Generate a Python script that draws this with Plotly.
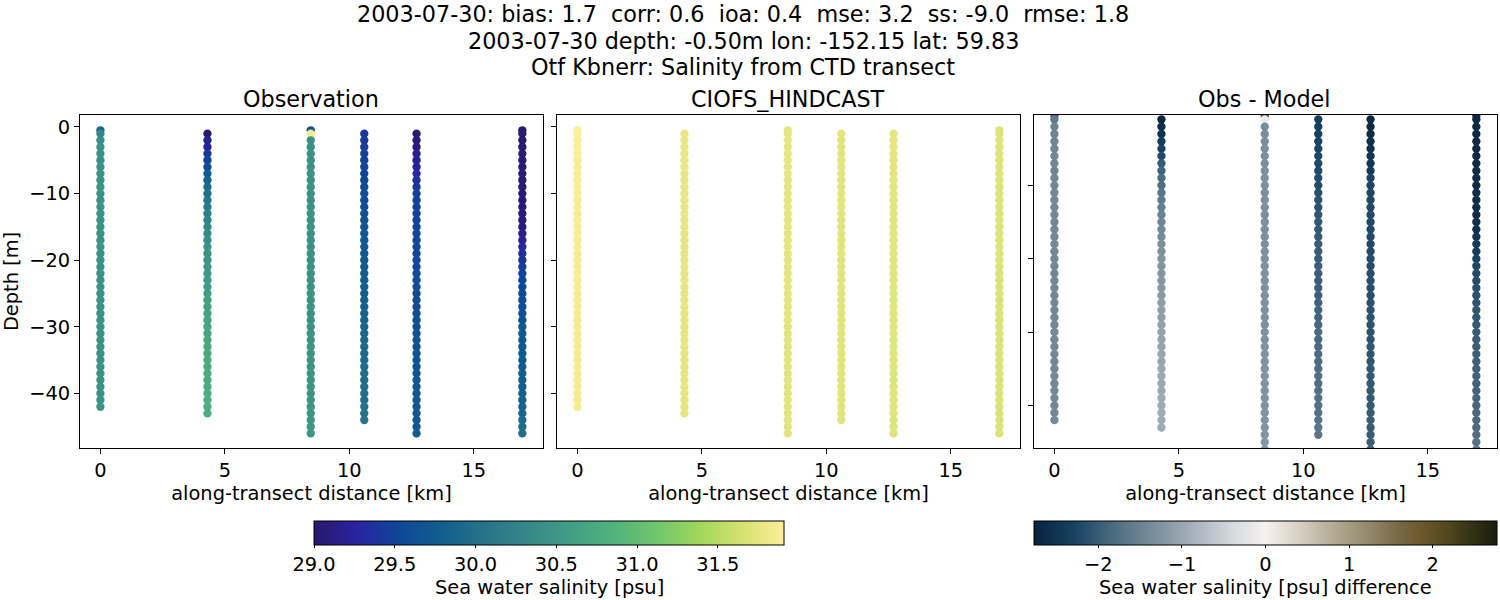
import plotly.graph_objects as go

# transect casts, values
distance = [0.0, 4.3, 8.45, 10.6, 12.7, 16.95]

depth_levels = [-0.5, -1, -2, -3, -4, -5, -6, -7, -8, -9, -10, -11, -12, -13, -14, -15,
                -16, -17, -18, -19, -20, -21, -22, -23, -24, -25, -26, -27, -28, -29, -30,
                -31, -32, -33, -34, -35, -36, -37, -38, -39, -40, -41, -42, -43, -44, -45, -46]

# index of first and one past last level per cast
cast_start = [0, 1, 0, 1, 1, 0]
cast_stop = [43, 44, 47, 45, 47, 47]

obs_0 = [29.9, 30.3, 30.42, 30.43, 30.44, 30.44, 30.45, 30.45, 30.45, 30.46, 30.46, 30.46, 30.46, 30.46, 30.46,
         30.46, 30.46, 30.46, 30.46, 30.46, 30.46, 30.46, 30.46, 30.46, 30.46, 30.46, 30.46, 30.46, 30.46, 30.46,
         30.46, 30.46, 30.46, 30.46, 30.46, 30.46, 30.46, 30.46, 30.46, 30.46, 30.46, 30.46, 30.46]
obs_1 = [29.05, 29.2, 29.25, 29.4, 29.5, 29.6, 29.75, 29.85, 29.95, 30.0, 30.1, 30.15, 30.2, 30.25, 30.3,
         30.35, 30.4, 30.45, 30.48, 30.5, 30.52, 30.54, 30.56, 30.58, 30.6, 30.62, 30.64, 30.66, 30.68, 30.7,
         30.71, 30.72, 30.73, 30.74, 30.75, 30.76, 30.77, 30.78, 30.79, 30.8, 30.8, 30.8, 30.8]
obs_2 = [29.6, 31.85, 30.4, 30.42, 30.43, 30.44, 30.44, 30.45, 30.45, 30.45, 30.45, 30.45, 30.45, 30.45, 30.45,
         30.45, 30.45, 30.45, 30.45, 30.45, 30.45, 30.46, 30.46, 30.46, 30.46, 30.46, 30.46, 30.46, 30.46, 30.46,
         30.46, 30.47, 30.47, 30.47, 30.47, 30.47, 30.48, 30.48, 30.48, 30.48, 30.49, 30.49, 30.49, 30.5, 30.5,
         30.5, 30.5]
obs_3 = [29.4, 29.42, 29.44, 29.46, 29.48, 29.5, 29.52, 29.54, 29.56, 29.58, 29.6, 29.62, 29.64, 29.66, 29.68,
         29.7, 29.71, 29.72, 29.73, 29.74, 29.75, 29.76, 29.77, 29.78, 29.79, 29.8, 29.82, 29.84, 29.86, 29.88,
         29.9, 29.91, 29.92, 29.93, 29.94, 29.95, 29.96, 29.97, 29.98, 29.99, 30.0, 30.02, 30.04, 30.05]
obs_4 = [29.05, 29.05, 29.1, 29.15, 29.2, 29.25, 29.3, 29.35, 29.45, 29.48, 29.5, 29.5, 29.51, 29.52, 29.52,
         29.53, 29.54, 29.54, 29.55, 29.56, 29.56, 29.57, 29.58, 29.58, 29.59, 29.6, 29.6, 29.61, 29.62, 29.62,
         29.63, 29.64, 29.64, 29.65, 29.66, 29.66, 29.67, 29.68, 29.68, 29.69, 29.7, 29.7, 29.71, 29.72, 29.73, 29.75]
obs_5 = [29.0, 29.03, 29.03, 29.03, 29.04, 29.04, 29.04, 29.05, 29.05, 29.06, 29.06, 29.07, 29.07, 29.08, 29.09,
         29.1, 29.15, 29.2, 29.3, 29.35, 29.4, 29.45, 29.5, 29.52, 29.54, 29.56, 29.58, 29.6, 29.62, 29.65,
         29.68, 29.7, 29.71, 29.72, 29.73, 29.74, 29.75, 29.76, 29.77, 29.78, 29.8, 29.82, 29.85, 29.88, 29.92,
         29.96, 30.0]

model_0 = [31.91, 31.91, 31.9, 31.9, 31.9, 31.89, 31.89, 31.89, 31.89, 31.89, 31.88, 31.88, 31.88, 31.88, 31.88,
           31.88, 31.88, 31.88, 31.87, 31.87, 31.87, 31.87, 31.87, 31.87, 31.87, 31.87, 31.87, 31.87, 31.86, 31.86,
           31.86, 31.86, 31.86, 31.86, 31.86, 31.86, 31.86, 31.86, 31.86, 31.86, 31.86, 31.86, 31.86]
model_1 = [31.78, 31.78, 31.78, 31.78, 31.78, 31.78, 31.77, 31.77, 31.77, 31.77, 31.77, 31.77, 31.77, 31.77, 31.77,
           31.76, 31.76, 31.76, 31.76, 31.76, 31.76, 31.76, 31.76, 31.76, 31.76, 31.75, 31.75, 31.75, 31.75, 31.75,
           31.75, 31.75, 31.75, 31.75, 31.75, 31.75, 31.75, 31.75, 31.75, 31.75, 31.75, 31.75, 31.75]
model_2 = [31.76, 31.76, 31.76, 31.76, 31.76, 31.76, 31.76, 31.76, 31.75, 31.75, 31.75, 31.75, 31.75, 31.75, 31.75,
           31.75, 31.75, 31.75, 31.75, 31.74, 31.74, 31.74, 31.74, 31.74, 31.74, 31.74, 31.74, 31.74, 31.74, 31.74,
           31.73, 31.73, 31.73, 31.73, 31.73, 31.73, 31.73, 31.73, 31.73, 31.73, 31.73, 31.73, 31.73, 31.73, 31.73,
           31.73, 31.73]
model_3 = [31.74, 31.74, 31.74, 31.74, 31.74, 31.74, 31.74, 31.74, 31.74, 31.74, 31.74, 31.74, 31.74, 31.73, 31.73,
           31.73, 31.73, 31.73, 31.73, 31.73, 31.73, 31.73, 31.73, 31.73, 31.73, 31.73, 31.72, 31.72, 31.72, 31.72,
           31.72, 31.72, 31.72, 31.72, 31.72, 31.72, 31.72, 31.72, 31.72, 31.72, 31.72, 31.72, 31.72, 31.72]
model_4 = [31.74, 31.74, 31.74, 31.74, 31.74, 31.74, 31.74, 31.74, 31.73, 31.73, 31.73, 31.73, 31.73, 31.73, 31.73,
           31.73, 31.73, 31.73, 31.73, 31.73, 31.72, 31.72, 31.72, 31.72, 31.72, 31.72, 31.72, 31.72, 31.72, 31.72,
           31.72, 31.72, 31.72, 31.72, 31.71, 31.71, 31.71, 31.71, 31.71, 31.71, 31.71, 31.71, 31.71, 31.71, 31.71, 31.71]
model_5 = [31.71, 31.71, 31.71, 31.71, 31.71, 31.71, 31.71, 31.71, 31.7, 31.7, 31.7, 31.7, 31.7, 31.7, 31.7,
           31.7, 31.7, 31.7, 31.7, 31.7, 31.7, 31.7, 31.69, 31.69, 31.69, 31.69, 31.69, 31.69, 31.69, 31.69,
           31.69, 31.69, 31.69, 31.69, 31.69, 31.69, 31.69, 31.69, 31.69, 31.69, 31.69, 31.69, 31.69, 31.69, 31.69,
           31.69, 31.69]

obs_casts = [obs_0, obs_1, obs_2, obs_3, obs_4, obs_5]
model_casts = [model_0, model_1, model_2, model_3, model_4, model_5]

title_lines = ["2003-07-30: bias: 1.7\u00a0 corr: 0.6\u00a0 ioa: 0.4\u00a0 mse: 3.2\u00a0 ss: -9.0\u00a0 rmse: 1.8",
               "2003-07-30 depth: -0.50m lon: -152.15 lat: 59.83",
               "Otf Kbnerr: Salinity from CTD transect"]
panel_titles = ["Observation", "CIOFS_HINDCAST", "Obs - Model"]

# cmocean "diff" as seen in the colorbar
diff_scale = [[0.0, "rgb(10,35,60)"], [0.086, "rgb(22,66,98)"], [0.144, "rgb(60,95,120)"],
              [0.215, "rgb(100,125,140)"], [0.287, "rgb(135,152,165)"], [0.36, "rgb(175,185,195)"],
              [0.43, "rgb(215,218,222)"], [0.5, "rgb(245,241,239)"], [0.572, "rgb(215,208,195)"],
              [0.644, "rgb(180,172,150)"], [0.715, "rgb(150,140,110)"], [0.787, "rgb(120,105,70)"],
              [0.845, "rgb(105,85,40)"], [0.895, "rgb(80,72,30)"], [0.945, "rgb(50,50,22)"],
              [1.0, "rgb(25,30,10)"]]
FONT = "DejaVu Sans"
LABEL_SIZE = 19.4
TITLE_SIZE = 22.3
W, H = 1500, 600


def xfrac(px):
    return px / W


def yfrac(px):
    return 1 - px / H


xs, ys, obs, model = [], [], [], []
for d, start, stop, o, m in zip(distance, cast_start, cast_stop, obs_casts, model_casts):
    levels = depth_levels[start:stop]
    xs += [d] * len(levels)
    ys += levels
    obs += o
    model += m
diff = [o - m for o, m in zip(obs, model)]

fig = go.Figure()
panels = [("x", "y", obs, "coloraxis"), ("x2", "y2", model, "coloraxis"), ("x3", "y3", diff, "coloraxis2")]
for xa, ya, vals, ca in panels:
    fig.add_trace(go.Scatter(x=xs, y=ys, xaxis=xa, yaxis=ya, mode="markers", showlegend=False,
                             marker=dict(size=8.33, color=vals, coloraxis=ca, line=dict(width=0))))

label_font = dict(family=FONT, size=LABEL_SIZE, color="black")
axis_style = dict(showgrid=False, zeroline=False, showline=True, mirror=True, linecolor="black", linewidth=1,
                  ticks="outside", ticklen=5, tickwidth=1, tickcolor="black", tickfont=label_font)
bounds = [(80, 543), (557, 1020), (1034, 1497)]
y_ranges = [[-48.2, 1.8], [-48.2, 1.8], [-45.8, -0.41]]
for i, (left, right) in enumerate(bounds):
    n = "" if i == 0 else str(i + 1)
    fig.layout["xaxis" + n] = dict(axis_style, domain=[xfrac(left), xfrac(right)], range=[-0.82, 17.78],
                                   tickvals=[0, 5, 10, 15], anchor="y" + n,
                                   title=dict(text="along-transect distance [km]", font=label_font, standoff=5))
    fig.layout["yaxis" + n] = dict(axis_style, domain=[yfrac(448), yfrac(115)], anchor="x" + n,
                                   tickvals=[0, -10, -20, -30, -40], range=y_ranges[i],
                                   showticklabels=i == 0)
fig.layout.yaxis.title = dict(text="Depth [m]", font=label_font, standoff=6)

for (left, right), text in zip(bounds, panel_titles):
    fig.add_annotation(text=text, x=xfrac((left + right) / 2 - 1), y=yfrac(99), xref="paper", yref="paper",
                       xanchor="center", yanchor="middle", showarrow=False,
                       font=dict(family=FONT, size=TITLE_SIZE, color="black"))
for line, py in zip(title_lines, [14, 41, 67]):
    fig.add_annotation(text=line, x=xfrac(743), y=yfrac(py), xref="paper", yref="paper",
                       xanchor="center", yanchor="middle", showarrow=False,
                       font=dict(family=FONT, size=TITLE_SIZE, color="black"))

# colorbar captions as annotations, the built-in title sits too low and gets cut
for text, cx in [("Sea water salinity [psu]", 549), ("Sea water salinity [psu] difference", 1265)]:
    fig.add_annotation(text=text, x=xfrac(cx), y=yfrac(587), xref="paper", yref="paper",
                       xanchor="center", yanchor="middle", showarrow=False, font=label_font)


def colorbar(left, right, ticks, labels):
    return dict(orientation="h", x=xfrac(left), xanchor="left", y=yfrac(521), yanchor="top", xpad=0, ypad=0,
                len=right - left, lenmode="pixels", thickness=24, thicknessmode="pixels",
                outlinewidth=1, outlinecolor="black", ticks="outside", ticklen=3, tickwidth=1, tickcolor="black",
                tickvals=ticks, ticktext=labels, tickfont=label_font)


fig.update_layout(
    width=W, height=H, autosize=False, paper_bgcolor="white", plot_bgcolor="white",
    margin=dict(l=0, r=0, t=0, b=0, autoexpand=False),
    coloraxis=dict(colorscale="haline", cmin=29.0, cmax=31.91,
                   colorbar=colorbar(314, 784, [29.0, 29.5, 30.0, 30.5, 31.0, 31.5],
                                     ["29.0", "29.5", "30.0", "30.5", "31.0", "31.5"])),
    coloraxis2=dict(colorscale=diff_scale, cmin=-2.77, cmax=2.77,
                    colorbar=colorbar(1034, 1497, [-2, -1, 0, 1, 2], ["\u22122", "\u22121", "0", "1", "2"])),
)

fig.write_html("out.html", config={"displayModeBar": False}, post_script="document.body.style.margin='0';")
